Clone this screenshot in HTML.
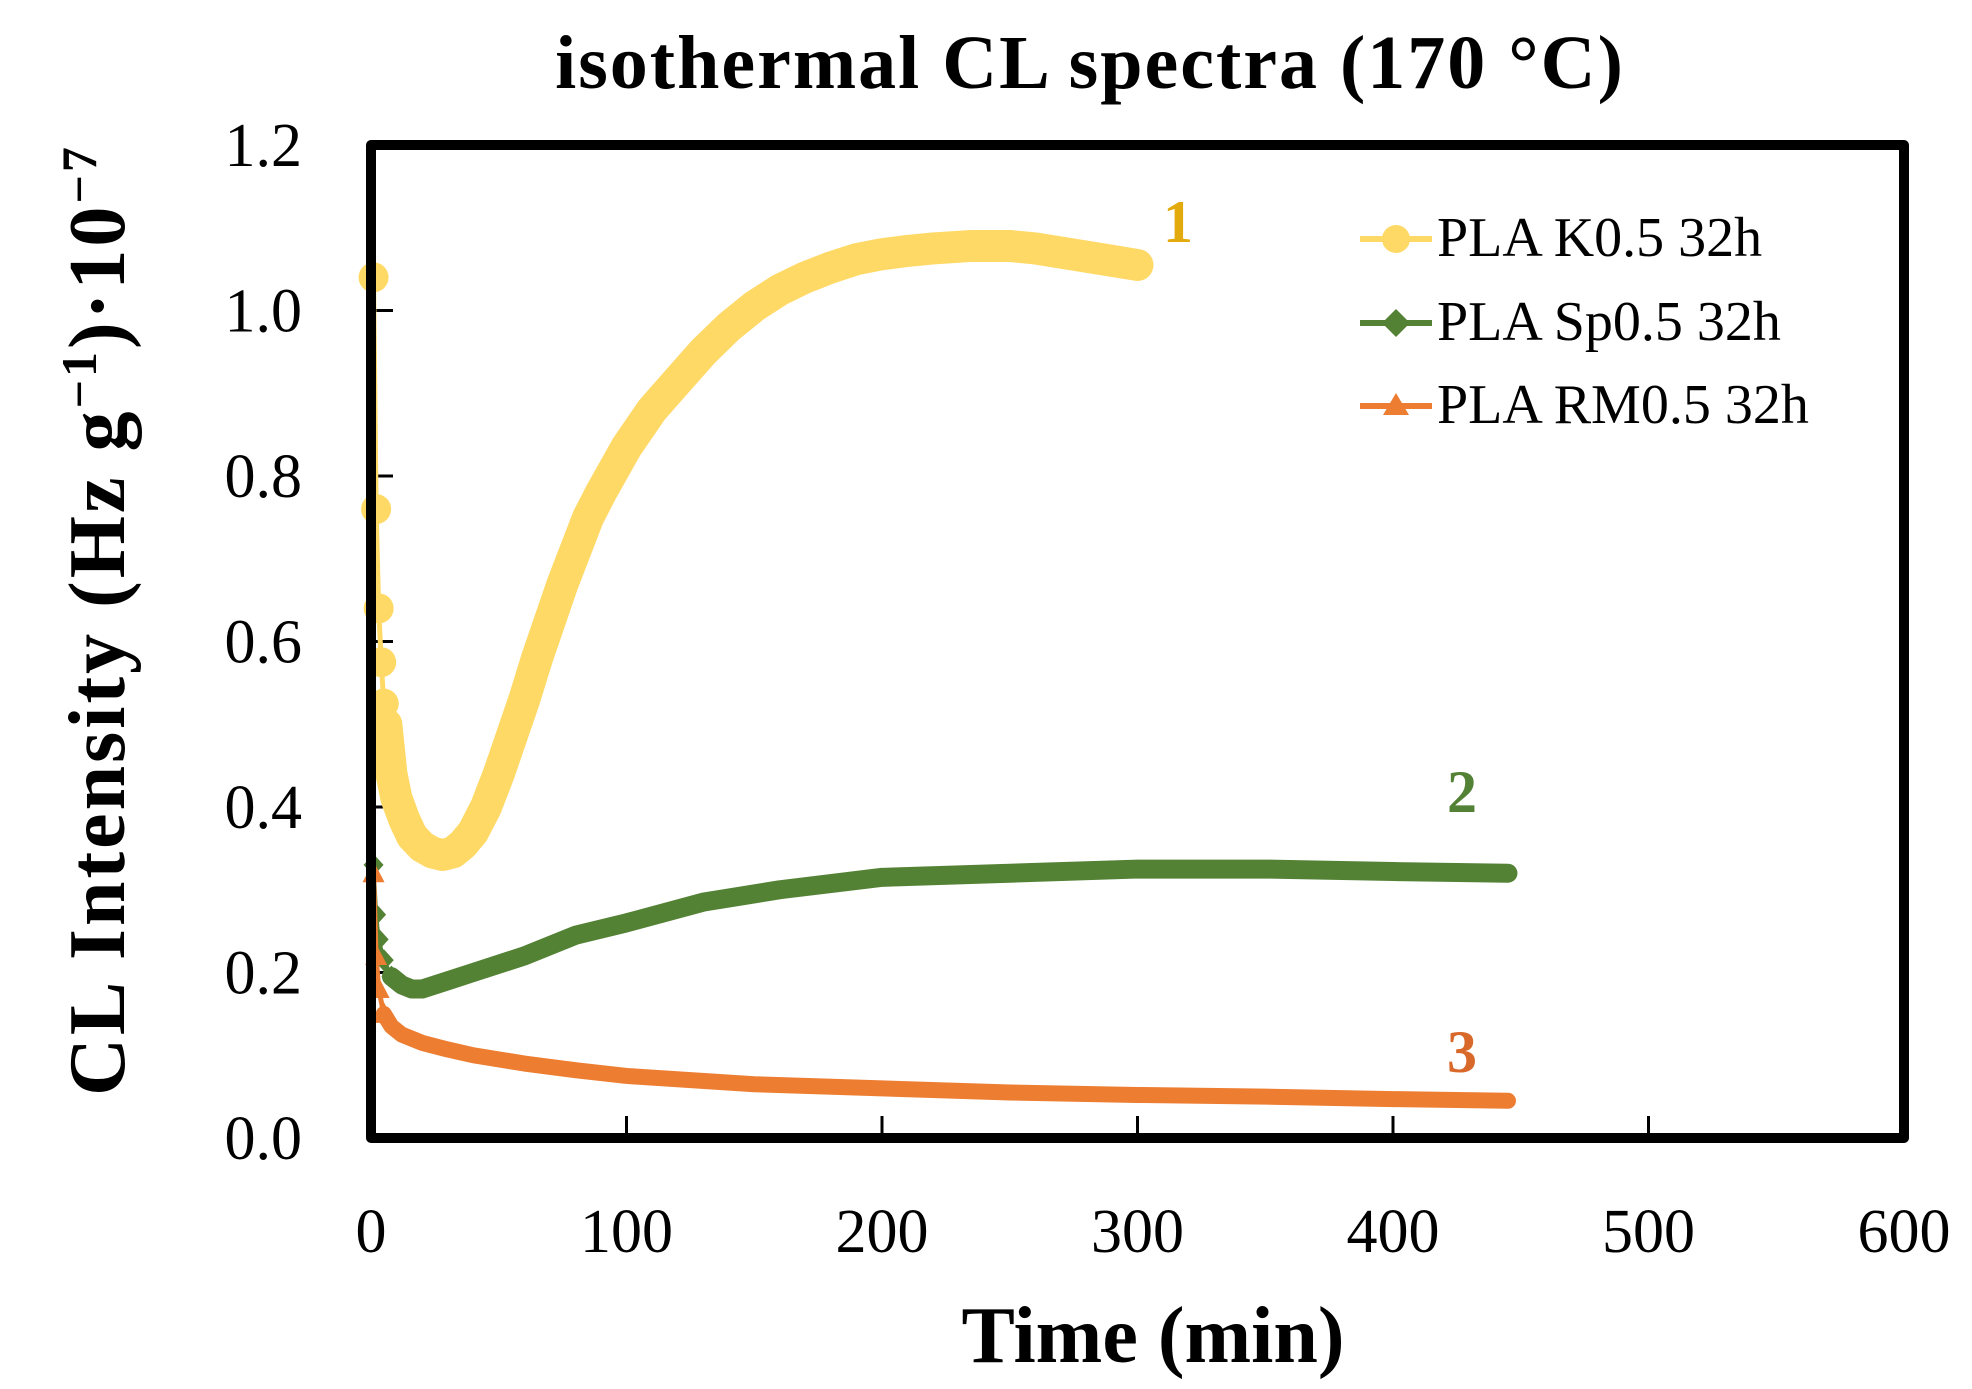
<!DOCTYPE html>
<html><head><meta charset="utf-8"><style>
html,body{margin:0;padding:0;background:#fff;}
svg{display:block;font-family:"Liberation Serif",serif;}
</style></head><body>
<svg id="chart" width="1972" height="1389" viewBox="0 0 1972 1389" xmlns="http://www.w3.org/2000/svg">
<text x="1090" y="88" font-size="76" font-weight="bold" text-anchor="middle" letter-spacing="2">isothermal CL spectra (170 °C)</text>
<text x="1153" y="1362" font-size="80" font-weight="bold" text-anchor="middle">Time (min)</text>
<text transform="translate(124,620) rotate(-90)" font-size="80" font-weight="bold" text-anchor="middle" letter-spacing="3">CL Intensity (Hz g<tspan dy="-28" font-size="50">−1</tspan><tspan dy="28">)·10</tspan><tspan dy="-28" font-size="50">−7</tspan></text>
<g id="ticks"></g>
<g id="series"></g>
<rect x="371" y="145" width="1533" height="993" fill="none" stroke="#000" stroke-width="10" stroke-linejoin="round"/>
<text x="1178" y="242" font-size="60" font-weight="bold" fill="#E3AA0E" text-anchor="middle">1</text>
<text x="1462" y="812" font-size="60" font-weight="bold" fill="#538135" text-anchor="middle">2</text>
<text x="1462" y="1072" font-size="60" font-weight="bold" fill="#D9692A" text-anchor="middle">3</text>
<g>
<line x1="1360" y1="239" x2="1432" y2="239" stroke="#FFD966" stroke-width="6"/>
<circle cx="1396" cy="239" r="14" fill="#FFD966"/>
<text x="1437" y="256" font-size="56">PLA K0.5 32h</text>
<line x1="1360" y1="323" x2="1432" y2="323" stroke="#548235" stroke-width="6"/>
<polygon points="1396,309 1410,323 1396,337 1382,323" fill="#548235"/>
<text x="1437" y="340" font-size="56">PLA Sp0.5 32h</text>
<line x1="1360" y1="406" x2="1432" y2="406" stroke="#ED7D31" stroke-width="6"/>
<polygon points="1396,393 1409,415 1383,415" fill="#ED7D31"/>
<text x="1437" y="423" font-size="56">PLA RM0.5 32h</text>
</g>
</svg>
<script>
const xTicks=[0,100,200,300,400,500,600];
const yTicks=[0.0,0.2,0.4,0.6,0.8,1.0,1.2];
const yTickLabels=["0.0","0.2","0.4","0.6","0.8","1.0","1.2"];
const kTime=[1,2,3,4,5,6,7,8,10,13,16,20,24,28,32,36,40,45,50,55,60,65,70,75,80,85,90,100,110,120,130,140,150,160,170,180,190,200,210,220,235,250,260,270,280,290,300];
const kVal=[1.04,0.76,0.64,0.575,0.525,0.50,0.47,0.44,0.41,0.385,0.365,0.352,0.345,0.342,0.345,0.355,0.37,0.40,0.44,0.485,0.53,0.58,0.625,0.67,0.71,0.75,0.78,0.835,0.88,0.915,0.95,0.98,1.005,1.025,1.04,1.052,1.062,1.068,1.072,1.075,1.078,1.078,1.075,1.07,1.065,1.06,1.055];
const kMarkTime=[1,2,3,4,5,6];
const kMarkVal=[1.04,0.76,0.64,0.575,0.525,0.50];
const spTime=[1,2,3,5,8,12,16,20,30,40,60,80,100,130,160,200,250,300,350,400,445];
const spVal=[0.33,0.27,0.24,0.215,0.195,0.185,0.18,0.18,0.19,0.20,0.22,0.245,0.26,0.285,0.30,0.315,0.32,0.325,0.325,0.322,0.32];
const rmTime=[1,2,3,5,8,12,20,30,40,60,80,100,150,200,250,300,350,400,445];
const rmVal=[0.32,0.22,0.18,0.15,0.135,0.125,0.115,0.107,0.10,0.09,0.082,0.075,0.065,0.06,0.055,0.052,0.05,0.047,0.045];
const NS="http://www.w3.org/2000/svg";
const X=t=>371+t*(1904-371)/600;
const Y=v=>1138-v*(1138-145)/1.2;
const tg=document.getElementById('ticks'),sg=document.getElementById('series');
function mk(tag,attrs,parent){const e=document.createElementNS(NS,tag);for(const k in attrs)e.setAttribute(k,attrs[k]);parent.appendChild(e);return e;}
xTicks.forEach(t=>{
  if(t>0&&t<600){const l=mk('line',{x1:X(t),x2:X(t),y1:1138,y2:1116,stroke:'#000','stroke-width':3},tg);
  
  }
  const tx=mk('text',{x:X(t),y:1252,'font-size':62,'text-anchor':'middle'},tg);tx.textContent=t;
  
  
});
yTicks.forEach((v,i)=>{
  if(i>0&&i<yTicks.length-1){const l=mk('line',{x1:371,x2:393,y1:Y(v),y2:Y(v),stroke:'#000','stroke-width':3},tg);
  
  }
  const tx=mk('text',{x:302,y:Y(v)+21,'font-size':62,'text-anchor':'end'},tg);tx.textContent=yTickLabels[i];
  
  
});
function pts(ts,vs){return ts.map((t,i)=>X(t)+','+Y(vs[i])).join(' ');}
let p=mk('polyline',{points:pts(spTime.slice(4),spVal.slice(4)),fill:'none',stroke:'#548235','stroke-width':19,'stroke-linejoin':'round','stroke-linecap':'round'},sg);


p=mk('polyline',{points:pts(spTime,spVal),fill:'none',stroke:'#548235','stroke-width':4},sg);


spTime.slice(0,5).forEach((t,i)=>{const cx=X(t),cy=Y(spVal[i]);const d=mk('polygon',{points:`${cx},${cy-11} ${cx+10},${cy} ${cx},${cy+11} ${cx-10},${cy}`,fill:'#548235'},sg);

});
p=mk('polyline',{points:pts(rmTime.slice(3),rmVal.slice(3)),fill:'none',stroke:'#ED7D31','stroke-width':16,'stroke-linejoin':'round','stroke-linecap':'round'},sg);


p=mk('polyline',{points:pts(rmTime,rmVal),fill:'none',stroke:'#ED7D31','stroke-width':5},sg);


rmTime.slice(0,4).forEach((t,i)=>{const cx=X(t),cy=Y(rmVal[i]);const d=mk('polygon',{points:`${cx},${cy-12} ${cx+11},${cy+9} ${cx-11},${cy+9}`,fill:'#ED7D31'},sg);

});
p=mk('polyline',{points:pts(kTime.slice(5),kVal.slice(5)),fill:'none',stroke:'#FFD966','stroke-width':32,'stroke-linejoin':'round','stroke-linecap':'round'},sg);


p=mk('polyline',{points:pts(kTime,kVal),fill:'none',stroke:'#FFD966','stroke-width':5},sg);


kMarkTime.forEach((t,i)=>{const c=mk('circle',{cx:X(t),cy:Y(kMarkVal[i]),r:15,fill:'#FFD966'},sg);

});
</script>
</body></html>
